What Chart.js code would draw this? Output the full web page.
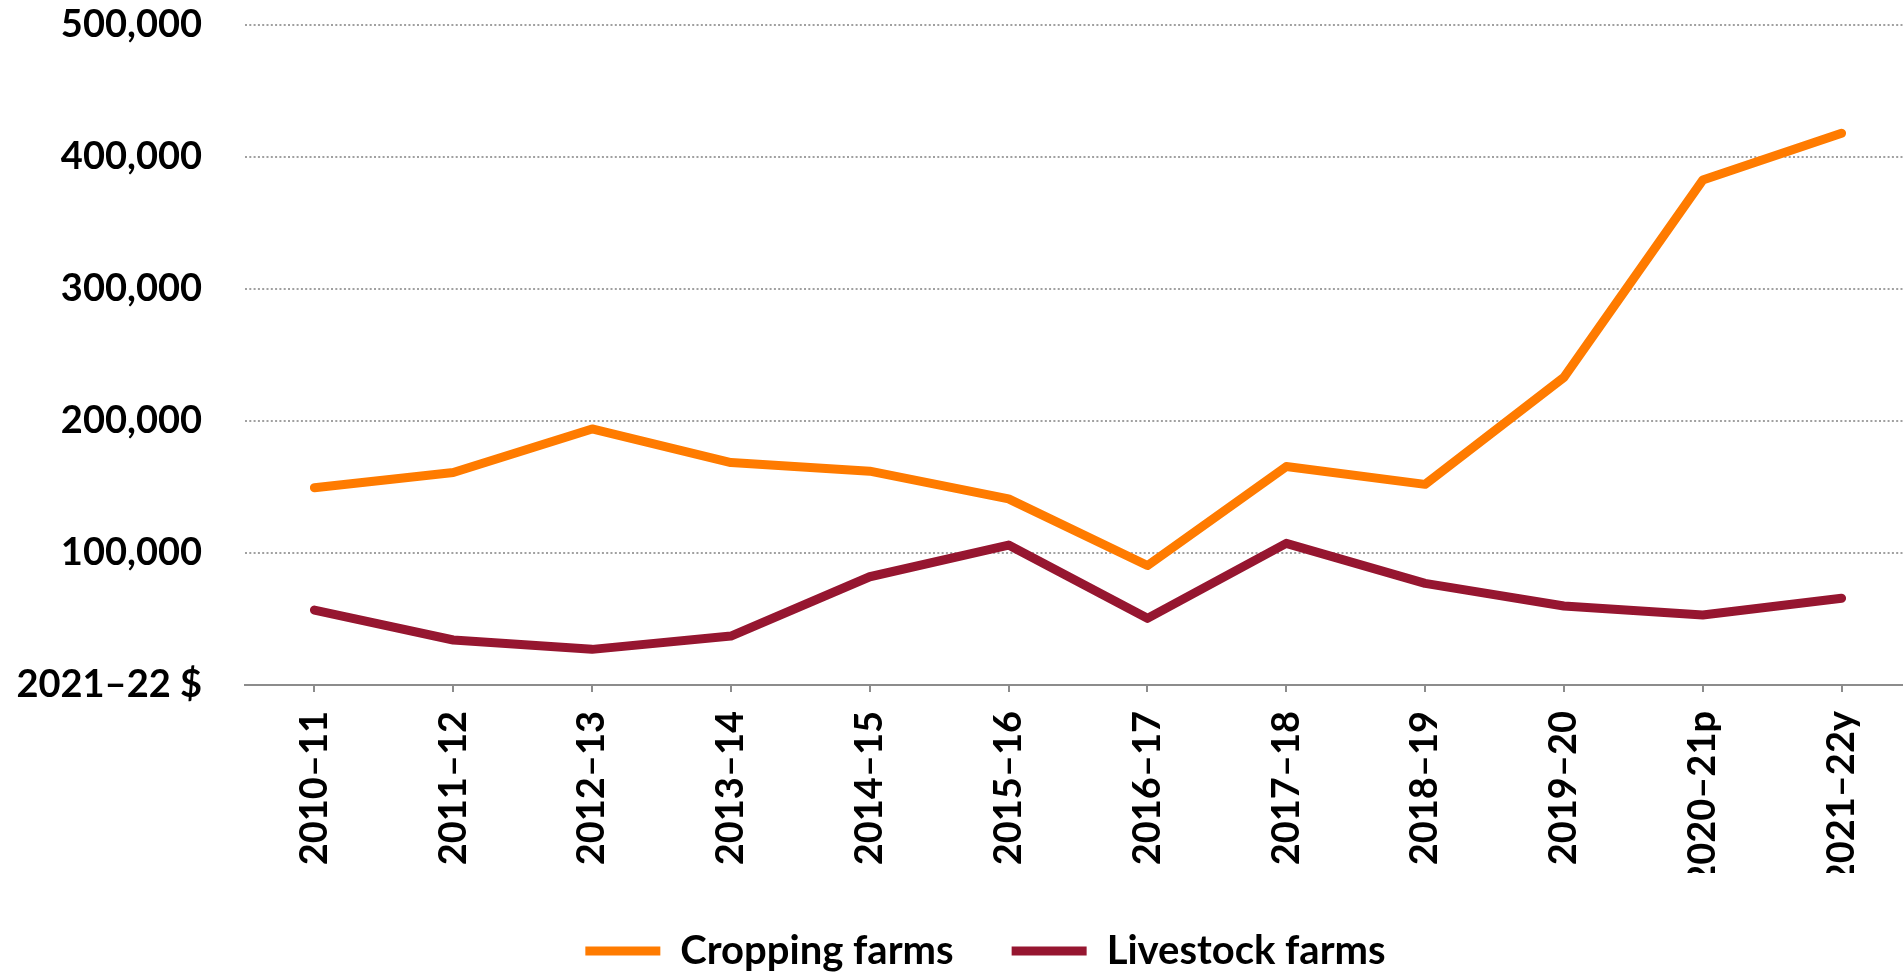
<!DOCTYPE html>
<html>
<head>
<meta charset="utf-8">
<script src="https://cdn.jsdelivr.net/npm/chart.js@4/dist/chart.umd.min.js"></script>
<style>
    html, body { margin: 0; padding: 0; background: #fff; overflow: hidden; }
</style>
</head>
<body>
<canvas id="farmChart" width="1911" height="981"></canvas>
<script>
// Data
const years = ['2010–11', '2011–12', '2012–13', '2013–14', '2014–15', '2015–16',
               '2016–17', '2017–18', '2018–19', '2019–20', '2020–21p', '2021–22y'];
const cropping = [149500, 161000, 194000, 168500, 162000, 141000, 90500, 165500, 152000, 233000, 382500, 418000];
const livestock = [56800, 34100, 27000, 37100, 82000, 106000, 50500, 107300, 77000, 59800, 53000, 65700];
const seriesNames = ['Cropping farms', 'Livestock farms'];
const yTicks = [0, 100000, 200000, 300000, 400000, 500000];
const zeroLabel = '2021–22 $';

const labelFont = { family: 'Lato', size: 38, weight: 'bold' };
const legendFont = { family: 'Lato', size: 40, weight: 'bold' };

// The legend sits a little right of centre in the original
const legendShift = {
    id: 'legendShift',
    afterLayout: function(chart) {
        chart.legend.left += 60;
    }
};

function initChart() {
    const ctx = document.getElementById('farmChart').getContext('2d');
    new Chart(ctx, {
        type: 'line',
        data: {
            labels: years,
            datasets: [{
                label: seriesNames[0],
                data: cropping,
                borderColor: '#ff7b00',
                backgroundColor: '#ff7b00',
                borderWidth: 9,
                borderCapStyle: 'round',
                borderJoinStyle: 'round',
                pointRadius: 0,
                pointHoverRadius: 0
            }, {
                label: seriesNames[1],
                data: livestock,
                borderColor: '#961630',
                backgroundColor: '#961630',
                borderWidth: 9,
                borderCapStyle: 'round',
                borderJoinStyle: 'round',
                pointRadius: 0,
                pointHoverRadius: 0
            }]
        },
        options: {
            responsive: false,
            animation: false,
            layout: { padding: { top: 25, left: 0, right: 0, bottom: 0 } },
            plugins: {
                tooltip: { enabled: false },
                legend: {
                    position: 'bottom',
                    labels: {
                        font: legendFont,
                        color: '#000',
                        usePointStyle: true,
                        pointStyle: 'line',
                        pointStyleWidth: 75,
                        padding: 58
                    }
                }
            },
            scales: {
                x: {
                    offset: true,
                    grid: {
                        drawOnChartArea: false,
                        drawTicks: true,
                        tickLength: 7,
                        color: '#8c8c8c',
                        lineWidth: 2
                    },
                    border: { display: true, color: '#8c8c8c', width: 2 },
                    ticks: {
                        font: labelFont,
                        color: '#000',
                        minRotation: 90,
                        maxRotation: 90,
                        autoSkip: false,
                        padding: 19
                    },
                    afterFit: function(scale) {
                        scale.height = 188;
                    }
                },
                y: {
                    min: yTicks[0],
                    max: yTicks[yTicks.length - 1],
                    grid: { color: '#a0a0a0', lineWidth: 2, drawTicks: false },
                    border: { display: false, dash: [2, 2.3] },
                    ticks: {
                        stepSize: yTicks[1] - yTicks[0],
                        font: labelFont,
                        color: '#000',
                        padding: 43,
                        callback: function(value) {
                            return value === 0 ? zeroLabel : value.toLocaleString('en-US');
                        }
                    },
                    afterFit: function(scale) {
                        scale.width = 245;
                        // the tick padding should not push the plot down
                        scale.paddingTop = 0;
                        scale.paddingBottom = 0;
                    }
                }
            }
        },
        plugins: [legendShift]
    });
}

initChart();
</script>
</body>
</html>
